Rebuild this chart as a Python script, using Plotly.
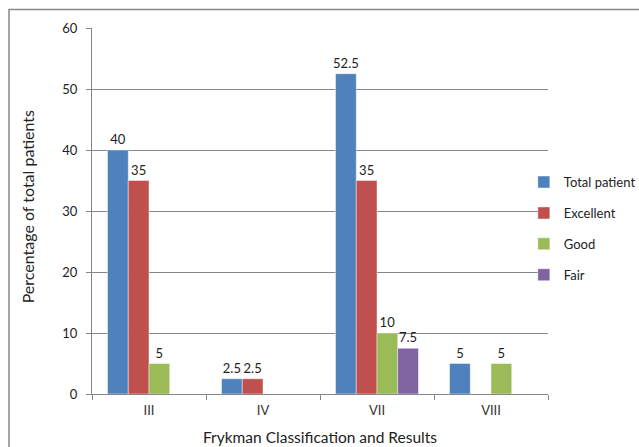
import plotly.graph_objects as go

# Frykman fracture classes and outcome percentages
categories = ["III", "IV", "VII", "VIII"]
total_patient = [40, 2.5, 52.5, 5]
excellent = [35, 2.5, 35, None]
good = [5, None, 10, 5]
fair = [None, None, 7.5, None]

series = [
    ("Total patient", total_patient, "#4F81BD"),
    ("Excellent", excellent, "#C0504D"),
    ("Good", good, "#9BBB59"),
    ("Fair", fair, "#8064A2"),
]

FONT = "Lato, 'Open Sans', sans-serif"
GRID = "#878787"

fig = go.Figure()
for i, (name, vals, color) in enumerate(series):
    fig.add_trace(go.Bar(
        x=categories, y=vals, name=name,
        marker=dict(color=color, line=dict(color="rgba(255,255,255,0.55)", width=0.8)),
        texttemplate="%{y}", textposition="outside", cliponaxis=False,
        constraintext="none",
        textfont=dict(family=FONT, size=13, color="#222"),
        legendgroup=name,
    ))

fig.update_layout(
    width=639, height=447,
    margin=dict(l=92, r=91, t=28, b=53, autoexpand=False),
    paper_bgcolor="white", plot_bgcolor="white",
    barmode="group", bargap=0.2727, bargroupgap=0,
    font=dict(family=FONT, size=13, color="#222"),
    showlegend=True,
    legend=dict(
        x=0.947, y=0.62, xanchor="left", yanchor="top",
        bgcolor="rgba(0,0,0,0)", font=dict(family=FONT, size=13, color="#222"),
        traceorder="grouped", tracegroupgap=11,
    ),
    xaxis=dict(
        showline=True, linecolor=GRID, linewidth=1,
        ticks="outside", tickson="boundaries", ticklen=5, tickcolor=GRID,
        ticklabelstandoff=4,
        showgrid=False, tickfont=dict(family=FONT, size=13, color="#333"),
    ),
    yaxis=dict(
        range=[0, 60], dtick=10, showline=True, linecolor=GRID, linewidth=1,
        ticks="outside", ticklen=5, tickcolor=GRID, ticklabelstandoff=6,
        showgrid=True, gridcolor=GRID, gridwidth=1, zeroline=False,
        tickfont=dict(family=FONT, size=13, color="#222"),
    ),
    shapes=[dict(
        type="rect", xref="paper", yref="paper",
        x0=-0.182, x1=1.25, y0=-0.2, y1=1.0505,
        line=dict(color="#888", width=1.5), fillcolor="rgba(0,0,0,0)", layer="below",
    )],
    annotations=[
        dict(text="Percentage of total patients", textangle=-90,
             xref="paper", yref="paper", x=-0.1425, y=0.51,
             xanchor="center", yanchor="middle", showarrow=False,
             font=dict(family=FONT, size=16, color="#222")),
        dict(text="Frykman Classification and Results",
             xref="paper", yref="paper", x=0.5, y=-0.1175,
             xanchor="center", yanchor="middle", showarrow=False,
             font=dict(family=FONT, size=15.5, color="#222")),
    ],
)

fig.write_html("out.html")
